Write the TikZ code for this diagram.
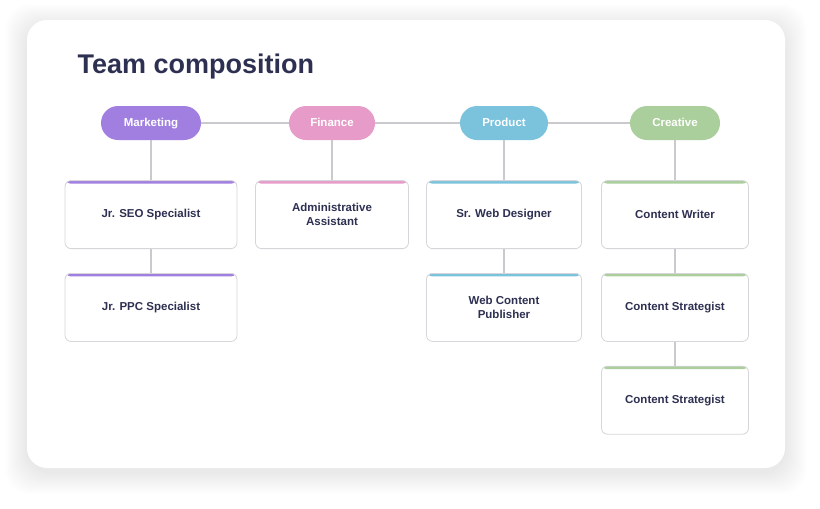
\documentclass[tikz,border=0pt]{standalone}
\usepackage{fontspec}
\setmainfont{Liberation Sans}
\usetikzlibrary{positioning}
\definecolor{tInk}{HTML}{2E3052}
\definecolor{tLine}{HTML}{C9C9CE}
\definecolor{tEdge}{HTML}{D6D6DA}
\definecolor{tPurple}{HTML}{A07FE0}
\definecolor{tPink}{HTML}{E79BC8}
\definecolor{tBlue}{HTML}{7BC2DD}
\definecolor{tGreen}{HTML}{AACF9C}

\begin{document}
\begin{tikzpicture}[x=1pt, y=-1pt,
  node distance=40pt,
  pill/.style={fill=#1, rounded corners=17pt, minimum height=34pt, inner xsep=0pt,
               text height=8.5pt, text depth=1pt,
               font=\fontsize{11.5}{13}\selectfont\bfseries\color{white}},
  role/.style={draw=tEdge, line width=0.8pt, rounded corners=6pt, fill=white,
               minimum height=68pt, align=center, inner xsep=4pt,
               font=\fontsize{11.5}{14}\selectfont\bfseries\color{tInk},
               path picture={\fill[#1] (path picture bounding box.north west)
                 rectangle ([yshift=-3pt]path picture bounding box.north east);}},
  link/.style={draw=tLine, line width=1.2pt}]
  \useasboundingbox[fill=white] (0,0) rectangle (820,509);
  % card with soft shadow
  \foreach \s in {1,...,22}
    \fill[black, opacity=0.0045, rounded corners=24pt] (27-\s,26-\s) rectangle (785+\s,472+\s);
  \fill[white, rounded corners=20pt] (27,20) rectangle (785,468);
  \node[anchor=base west, font=\fontsize{27}{30}\selectfont\bfseries\color{tInk}] (title) at (74,73) {Team composition};
  % departments
  \node[pill=tPurple, minimum width=100pt] (mkt) at (151,123) {Marketing};
  \node[pill=tPink, minimum width=86pt] (fin) at (332,123) {Finance};
  \node[pill=tBlue, minimum width=88pt] (prd) at (504,123) {Product};
  \node[pill=tGreen, minimum width=90pt] (cre) at (675,123) {Creative};
  % roles
  \node[role=tPurple, minimum width=172pt, below=of mkt] (seo) {Jr. SEO Specialist};
  \node[role=tPurple, minimum width=172pt, below=24pt of seo] (ppc) {Jr. PPC Specialist};
  \node[role=tPink, minimum width=153pt, below=of fin] (adm) {Administrative\\Assistant};
  \node[role=tBlue, minimum width=155pt, below=of prd] (web) {Sr. Web Designer};
  \node[role=tBlue, minimum width=155pt, below=24pt of web] (pub) {Web Content\\Publisher};
  \node[role=tGreen, minimum width=147pt, below=of cre] (wri) {Content Writer};
  \node[role=tGreen, minimum width=147pt, below=24pt of wri] (str) {Content Strategist};
  \node[role=tGreen, minimum width=147pt, below=24pt of str] (str2) {Content Strategist};
  % connectors
  \draw[link] (mkt) -- (fin);  \draw[link] (fin) -- (prd);  \draw[link] (prd) -- (cre);
  \draw[link] (mkt) -- (seo);  \draw[link] (seo) -- (ppc);
  \draw[link] (fin) -- (adm);
  \draw[link] (prd) -- (web);  \draw[link] (web) -- (pub);
  \draw[link] (cre) -- (wri);  \draw[link] (wri) -- (str);  \draw[link] (str) -- (str2);
\end{tikzpicture}
\end{document}
